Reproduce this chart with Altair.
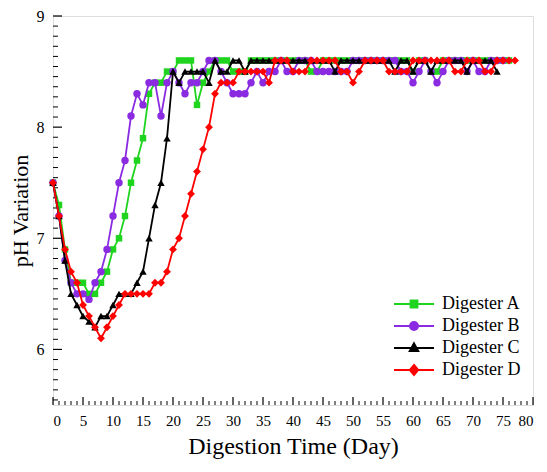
import altair as alt
import pandas as pd

# ---------------- data ----------------
names = ["Digester A", "Digester B", "Digester C", "Digester D"]
colors = ["#1fd41f", "#8a2be2", "#000000", "#ff0000"]

days_a = list(range(0, 77))
ph_a = [7.5, 7.3, 6.9, 6.6, 6.6, 6.6, 6.5, 6.5, 6.6, 6.7,
        6.9, 7.0, 7.2, 7.5, 7.7, 7.9, 8.3, 8.4, 8.4, 8.5,
        8.5, 8.6, 8.6, 8.6, 8.2, 8.4, 8.5, 8.6, 8.6, 8.6,
        8.5, 8.5, 8.5, 8.6, 8.6, 8.6, 8.6, 8.6, 8.6, 8.6,
        8.6, 8.6, 8.6, 8.5, 8.5, 8.6, 8.6, 8.6, 8.6, 8.6,
        8.6, 8.6, 8.6, 8.6, 8.6, 8.6, 8.6, 8.6, 8.6, 8.6,
        8.5, 8.6, 8.6, 8.5, 8.5, 8.6, 8.6, 8.6, 8.6, 8.6,
        8.6, 8.6, 8.6, 8.6, 8.6, 8.6, 8.6]

days_b = list(range(0, 76))
ph_b = [7.5, 7.2, 6.8, 6.6, 6.5, 6.5, 6.45, 6.6, 6.7, 6.9,
        7.2, 7.5, 7.7, 8.1, 8.3, 8.2, 8.4, 8.4, 8.1, 8.4,
        8.5, 8.4, 8.3, 8.4, 8.4, 8.5, 8.6, 8.6, 8.5, 8.4,
        8.3, 8.3, 8.3, 8.4, 8.5, 8.4, 8.5, 8.5, 8.6, 8.5,
        8.5, 8.6, 8.6, 8.6, 8.5, 8.5, 8.5, 8.5, 8.5, 8.5,
        8.6, 8.6, 8.6, 8.6, 8.6, 8.6, 8.6, 8.6, 8.5, 8.5,
        8.4, 8.5, 8.6, 8.5, 8.4, 8.5, 8.6, 8.6, 8.6, 8.5,
        8.6, 8.5, 8.5, 8.6, 8.6, 8.6]

days_c = list(range(0, 75))
ph_c = [7.5, 7.2, 6.8, 6.5, 6.4, 6.3, 6.25, 6.2, 6.3, 6.3,
        6.4, 6.5, 6.5, 6.5, 6.6, 6.7, 7.0, 7.3, 7.5, 7.9,
        8.5, 8.4, 8.5, 8.5, 8.5, 8.5, 8.4, 8.6, 8.5, 8.5,
        8.6, 8.6, 8.5, 8.6, 8.6, 8.6, 8.6, 8.6, 8.6, 8.6,
        8.6, 8.6, 8.6, 8.6, 8.6, 8.6, 8.6, 8.5, 8.6, 8.6,
        8.6, 8.6, 8.6, 8.6, 8.6, 8.6, 8.6, 8.5, 8.6, 8.6,
        8.5, 8.6, 8.6, 8.5, 8.6, 8.6, 8.6, 8.6, 8.6, 8.5,
        8.6, 8.6, 8.6, 8.6, 8.5]

days_d = list(range(0, 78))
ph_d = [7.5, 7.2, 6.9, 6.7, 6.6, 6.4, 6.3, 6.2, 6.1, 6.2,
        6.3, 6.4, 6.5, 6.5, 6.5, 6.5, 6.5, 6.6, 6.6, 6.7,
        6.9, 7.0, 7.2, 7.4, 7.6, 7.8, 8.0, 8.3, 8.4, 8.4,
        8.4, 8.5, 8.5, 8.5, 8.5, 8.5, 8.4, 8.6, 8.6, 8.6,
        8.5, 8.5, 8.5, 8.6, 8.6, 8.6, 8.6, 8.6, 8.5, 8.5,
        8.4, 8.5, 8.6, 8.6, 8.6, 8.6, 8.5, 8.5, 8.5, 8.5,
        8.6, 8.6, 8.6, 8.6, 8.6, 8.6, 8.6, 8.5, 8.5, 8.6,
        8.6, 8.6, 8.5, 8.5, 8.6, 8.6, 8.6, 8.6]

x_labels = list(range(0, 81, 5))
y_labels = [6, 7, 8, 9]
x_minor = list(range(0, 81))
y_minor = [m + k / 11 for m in [5, 6, 7, 8] for k in range(1, 11) if m + k / 11 > 5.5]

# ---------------- build ----------------
frames = []
for nm, d, p in zip(names, [days_a, days_b, days_c, days_d], [ph_a, ph_b, ph_c, ph_d]):
    frames.append(pd.DataFrame({"day": d, "ph": p, "series": nm}))
df = pd.concat(frames, ignore_index=True)

W, H = 480, 389
FONT = "Liberation Serif"
xs = alt.Scale(domain=[0, 80], nice=False, zero=False)
ys = alt.Scale(domain=[5.5, 9], nice=False, zero=False)

xaxis = alt.Axis(values=x_labels, format="d", ticks=False, tickSize=0, domain=False, grid=False,
                 labelFont=FONT, labelFontSize=15, labelColor="black", labelPadding=8,
                 title="Digestion Time (Day)", titleFont=FONT, titleFontSize=24,
                 titleFontWeight="normal", titleColor="black", titlePadding=6)
yaxis = alt.Axis(values=y_labels, format="d", ticks=False, tickSize=0, domain=False, grid=False,
                 labelFont=FONT, labelFontSize=16, labelColor="black", labelPadding=9,
                 title="pH Variation", titleFont=FONT, titleFontSize=22,
                 titleFontWeight="normal", titleColor="black", titlePadding=4)

X = alt.X("day:Q", scale=xs, axis=xaxis)
Y = alt.Y("ph:Q", scale=ys, axis=yaxis)

base = alt.Chart(df)
shapes = ["square", "circle", "triangle-up", "diamond"]
sizes = [42, 55, 55, 62]
layers = []
for nm, col, shp, sz in zip(names, colors, shapes, sizes):
    sub = base.transform_filter(alt.datum.series == nm)
    layers.append(sub.mark_line(strokeWidth=1.8, color=col).encode(x=X, y=Y))
    layers.append(sub.mark_point(shape=shp, filled=True, size=sz, opacity=1, color=col).encode(x=X, y=Y))

# inner ticks
ymin_df = pd.DataFrame({"v": y_minor})
ymaj_df = pd.DataFrame({"v": y_labels})
xmin_df = pd.DataFrame({"v": [v for v in x_minor if v % 5 != 0]})
xmaj_df = pd.DataFrame({"v": x_labels})
tick_layers = [
    alt.Chart(ymin_df).mark_rule(color="black", strokeWidth=1).encode(
        y=alt.Y("v:Q", scale=ys, axis=yaxis), x=alt.value(0), x2=alt.value(5)),
    alt.Chart(ymaj_df).mark_rule(color="black", strokeWidth=1.2).encode(
        y=alt.Y("v:Q", scale=ys, axis=yaxis), x=alt.value(0), x2=alt.value(9)),
    alt.Chart(xmin_df).mark_rule(color="black", strokeWidth=1).encode(
        x=alt.X("v:Q", scale=xs, axis=xaxis), y=alt.value(H), y2=alt.value(H - 4)),
    alt.Chart(xmaj_df).mark_rule(color="black", strokeWidth=1.2).encode(
        x=alt.X("v:Q", scale=xs, axis=xaxis), y=alt.value(H), y2=alt.value(H - 8)),
]

# legend-only layer (no rows drawn), symbols = line + marker
paths = [
    "M-5,0H5M-0.85,-0.85H0.85V0.85H-0.85Z",
    "M-5,0H5M-1,0A1,1,0,1,0,1,0A1,1,0,1,0,-1,0Z",
    "M-5,0H5M0,-1.15L1.05,0.75H-1.05Z",
    "M-5,0H5M0,-1.25L1.05,0L0,1.25L-1.05,0Z",
]
leg = alt.Legend(title=None, orient="none", legendX=352, legendY=279,
                 labelFont=FONT, labelFontSize=18, labelColor="black",
                 symbolSize=64, symbolStrokeWidth=2, labelOffset=19, rowPadding=4,
                 symbolOpacity=1)
legend_layer = base.transform_filter("datum.day < 0").mark_point(filled=True, opacity=1).encode(
    color=alt.Color("series:N", scale=alt.Scale(domain=names, range=colors), legend=leg),
    stroke=alt.Stroke("series:N", scale=alt.Scale(domain=names, range=colors), legend=leg),
    shape=alt.Shape("series:N", scale=alt.Scale(domain=names, range=paths), legend=leg),
)

chart = alt.layer(*tick_layers, *layers, legend_layer).properties(
    width=W, height=H,
    autosize=alt.AutoSizeParams(type="none"),
    padding={"left": 45, "top": 8, "right": 6, "bottom": 57},
).configure_view(stroke="black", strokeWidth=1.5).configure(
    font=FONT, background="white"
).configure_axis(labelFont=FONT, titleFont=FONT).configure_legend(labelFont=FONT)

chart.save("out.html", embed_options={"renderer": "svg", "actions": False})
